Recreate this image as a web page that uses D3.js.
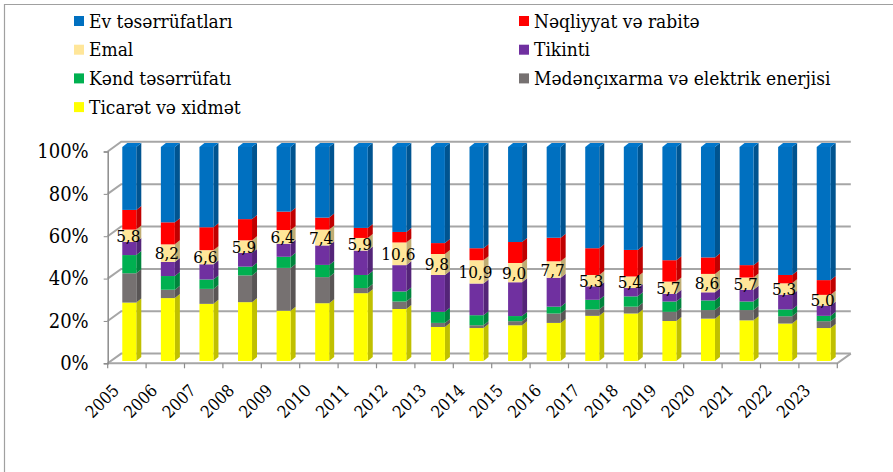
<!DOCTYPE html>
<html>
<head>
<meta charset="utf-8">
<script src="https://cdn.jsdelivr.net/npm/d3@7"></script>
<style>
  html, body { margin: 0; padding: 0; background: #fff; }
  svg text { font-stretch: condensed; }
</style>
</head>
<body>
<div id="chart"></div>
<script>
// Shares of sectors by year (percent); bottom to top of each stack.
const years = ["2005", "2006", "2007", "2008", "2009", "2010", "2011", "2012", "2013", "2014",
  "2015", "2016", "2017", "2018", "2019", "2020", "2021", "2022", "2023"];
const ticaret = [27.3, 29.4, 26.7, 27.5, 23.5, 27.0, 31.7, 24.3, 15.9, 15.4, 16.7, 17.8, 21.1, 22.2, 18.7, 19.8, 19.0, 17.5, 15.4];
const meden = [13.7, 3.9, 7.0, 12.5, 20.0, 12.2, 2.4, 3.5, 1.9, 1.3, 1.9, 4.4, 3.0, 3.2, 4.3, 4.0, 4.8, 3.4, 3.2];
const kend = [8.5, 6.4, 4.4, 4.1, 5.2, 5.7, 6.1, 4.7, 5.2, 4.7, 2.4, 3.2, 4.5, 4.8, 4.8, 4.5, 4.0, 3.2, 2.5];
const tikinti = [6.1, 6.6, 7.1, 6.4, 6.1, 9.1, 11.4, 12.3, 17.2, 14.8, 15.8, 13.5, 6.3, 3.9, 3.6, 3.8, 5.5, 6.9, 4.8];
const emal = [5.8, 8.2, 6.6, 5.9, 6.4, 7.4, 5.9, 10.6, 9.8, 10.9, 9.0, 7.7, 5.3, 5.4, 5.7, 8.6, 5.7, 5.3, 5.0];
const neqliyyat = [9.2, 10.3, 10.7, 9.9, 8.6, 5.6, 4.7, 4.9, 5.1, 5.6, 9.8, 11.0, 12.5, 12.4, 10.0, 7.7, 5.8, 3.9, 6.9];
const ev = [29.4, 35.2, 37.5, 33.7, 30.2, 33.0, 37.8, 39.7, 44.9, 47.3, 44.4, 42.4, 47.3, 48.1, 52.9, 51.6, 55.2, 59.8, 62.2];

const seriesNames = ["Ticarət və xidmət", "Mədənçıxarma və elektrik enerjisi", "Kənd təsərrüfatı",
  "Tikinti", "Emal", "Nəqliyyat və rabitə", "Ev təsərrüfatları"];
const seriesValues = [ticaret, meden, kend, tikinti, emal, neqliyyat, ev];
const seriesColors = ["#FFFF00", "#767171", "#00B050", "#7030A0", "#FFE699", "#FF0000", "#0070C0"];
// legend reads row by row, two columns
const legendOrder = [6, 5, 4, 3, 2, 1, 0];
const yTicks = [0, 0.2, 0.4, 0.6, 0.8, 1];

const W = 893, H = 472;
const FONT = "'DejaVu Serif Condensed', 'DejaVu Serif'";
const depth = { dx: 13.5, dy: -9.7 };        // floor / wall depth
const bar = { w: 14, dx: 5, dy: -4 };         // bar box size
const GRID = "#A6A6A6", AXIS = "#8C8C8C";

const svg = d3.select("#chart").append("svg")
  .attr("width", W).attr("height", H)
  .attr("viewBox", `0 0 ${W} ${H}`)
  .attr("font-family", FONT);

// frame lines (top and left)
svg.append("path")
  .attr("d", `M4.5,${H} V4.5 H${W}`)
  .attr("fill", "none").attr("stroke", "#A0A0A0").attr("stroke-width", 1.2);

// scales
const x = d3.scaleBand().domain(years).range([107.7, 837.3]);
const xb = d3.scaleBand().domain(years).range([110, 843]);
const y = d3.scaleLinear().domain([0, 1]).range([363.3, 151.5]);
const yb = d3.scaleLinear().domain([0, 100]).range([361, 147]);

const x0 = x.range()[0], x1 = x.range()[1];

// back wall gridlines + side wall diagonals
const grid = svg.append("g").attr("stroke", GRID).attr("stroke-width", 2).attr("fill", "none");
grid.selectAll("path.g").data(yTicks).join("path")
  .attr("class", "g")
  .attr("d", (d) => `M${x0},${y(d)} L${x0 + depth.dx},${y(d) + depth.dy} H${x1 + depth.dx}`);

// floor: front line + right edge
grid.append("path")
  .attr("d", `M${x0},${y(0)} H${x1} L${x1 + depth.dx},${y(0) + depth.dy}`);

// left axis
svg.append("g")
  .attr("transform", `translate(${x0},0)`)
  .call(d3.axisLeft(y).tickValues(yTicks).tickFormat(d3.format(".0%")).tickSize(4).tickPadding(15))
  .attr("font-family", FONT)
  .call((g) => g.select(".domain").attr("stroke", AXIS).attr("stroke-width", 1.5))
  .call((g) => g.selectAll(".tick line").attr("stroke", AXIS))
  .selectAll("text").attr("fill", "#000").style("font-size", "20px");

// bottom category boundary ticks
svg.append("g").selectAll("line")
  .data(years.map((yr) => x(yr)).concat([x1]))
  .join("line")
  .attr("x1", (d) => d).attr("x2", (d) => d)
  .attr("y1", y(0)).attr("y2", y(0) + 5)
  .attr("stroke", AXIS).attr("stroke-width", 1.2);

// rotated year labels
svg.append("g").selectAll("text")
  .data(years)
  .join("text")
  .attr("transform", (d) => `translate(${x(d) + x.bandwidth() / 2 - 11},${y(0) + 24}) rotate(-45)`)
  .attr("text-anchor", "end")
  .attr("dy", "0.35em")
  .style("font-size", "17px")
  .attr("fill", "#000")
  .text((d) => d);

// stacked 3D bars
const rows = years.map((yr, i) => {
  const r = { year: yr };
  seriesNames.forEach((n, k) => { r[n] = seriesValues[k][i]; });
  return r;
});
const stacked = d3.stack().keys(seriesNames)(rows);

const bars = svg.append("g");
years.forEach((yr, i) => {
  const bx = xb(yr) + xb.bandwidth() / 2 - bar.w / 2;
  const g = bars.append("g");
  stacked.forEach((layer, k) => {
    const [lo, hi] = layer[i];
    const top = yb(hi), bot = yb(lo);
    const c = d3.color(seriesColors[k]);
    // side face
    g.append("path")
      .attr("d", `M${bx + bar.w},${bot} L${bx + bar.w + bar.dx},${bot + bar.dy} L${bx + bar.w + bar.dx},${top + bar.dy} L${bx + bar.w},${top} Z`)
      .attr("fill", c.darker(0.8));
    // front face
    g.append("rect")
      .attr("x", bx).attr("y", top)
      .attr("width", bar.w).attr("height", Math.max(0, bot - top))
      .attr("fill", c);
    if (k === stacked.length - 1) {
      g.append("path")
        .attr("d", `M${bx},${top} L${bx + bar.dx},${top + bar.dy} H${bx + bar.w + bar.dx} L${bx + bar.w},${top} Z`)
        .attr("fill", c.brighter(0.15));
    }
  });
});

// Emal value labels
const emalLayer = stacked[4];
svg.append("g").selectAll("text")
  .data(years)
  .join("text")
  .attr("x", (d) => xb(d) + xb.bandwidth() / 2 - 1)
  .attr("y", (d, i) => yb((emalLayer[i][0] + emalLayer[i][1]) / 2))
  .attr("text-anchor", "middle")
  .attr("dominant-baseline", "central")
  .style("font-size", "17px")
  .attr("fill", "#000")
  .text((d, i) => emal[i].toFixed(1).replace(".", ","));

// legend, two columns
const legend = svg.append("g").style("font-size", "19px");
legendOrder.forEach((k, j) => {
  const lx = j % 2 === 0 ? 74 : 519;
  const ly = 21 + Math.floor(j / 2) * 28.7;
  const item = legend.append("g").attr("transform", `translate(${lx},${ly})`);
  item.append("rect").attr("x", 0).attr("y", -5).attr("width", 10).attr("height", 10)
    .attr("fill", seriesColors[k]);
  item.append("text").attr("x", 15).attr("dy", "0.35em").attr("fill", "#000")
    .text(seriesNames[k]);
});
</script>
</body>
</html>
